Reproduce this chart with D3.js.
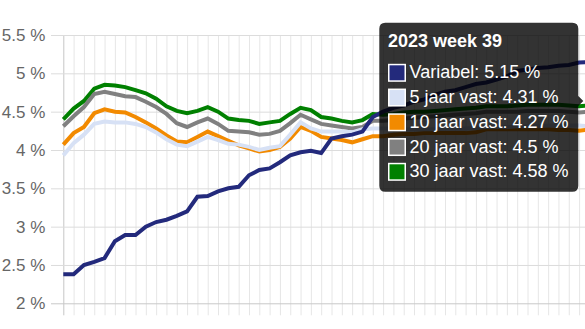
<!DOCTYPE html>
<html><head><meta charset="utf-8">
<script src="https://cdn.jsdelivr.net/npm/d3@7"></script>
<style>html,body{margin:0;padding:0;background:#fff;overflow:hidden}svg{display:block}</style>
</head><body><svg id="c" width="585" height="329"></svg>
<script>
const categories = [
 "2022 week 40","2022 week 41","2022 week 42","2022 week 43","2022 week 44","2022 week 45","2022 week 46",
 "2022 week 47","2022 week 48","2022 week 49","2022 week 50","2022 week 51","2022 week 52",
 "2023 week 1","2023 week 2","2023 week 3","2023 week 4","2023 week 5","2023 week 6","2023 week 7",
 "2023 week 8","2023 week 9","2023 week 10","2023 week 11","2023 week 12","2023 week 13","2023 week 14",
 "2023 week 15","2023 week 16","2023 week 17","2023 week 18","2023 week 19","2023 week 20","2023 week 21",
 "2023 week 22","2023 week 23","2023 week 24","2023 week 25","2023 week 26","2023 week 27","2023 week 28",
 "2023 week 29","2023 week 30","2023 week 31","2023 week 32","2023 week 33","2023 week 34","2023 week 35",
 "2023 week 36","2023 week 37","2023 week 38","2023 week 39"];

const seriesNames = ["Variabel", "5 jaar vast", "10 jaar vast", "20 jaar vast", "30 jaar vast"];

const variabel = [2.38,2.38,2.50,2.54,2.59,2.81,2.89,2.89,3.00,3.06,3.09,3.14,3.20,3.39,3.40,3.46,3.50,3.52,3.67,3.74,
 3.76,3.84,3.93,3.97,3.99,3.96,4.15,4.18,4.20,4.24,4.43,4.50,4.55,4.58,4.63,4.66,4.72,4.76,4.78,4.82,
 4.86,4.88,4.92,4.96,5.03,5.05,5.07,5.08,5.10,5.11,5.14,5.15];
const vast5 = [3.93,4.09,4.20,4.34,4.37,4.36,4.36,4.34,4.30,4.23,4.14,4.07,4.05,4.11,4.17,4.13,4.08,4.07,4.04,4.00,
 4.03,4.05,4.20,4.36,4.28,4.24,4.24,4.24,4.23,4.27,4.28,4.28,4.28,4.27,4.27,4.27,4.27,4.28,4.28,4.28,
 4.29,4.30,4.30,4.30,4.31,4.31,4.31,4.32,4.32,4.32,4.32,4.31];
const vast10 = [4.07,4.22,4.30,4.48,4.53,4.50,4.49,4.43,4.36,4.28,4.19,4.11,4.10,4.17,4.24,4.18,4.12,4.06,4.02,3.98,
 4.00,4.04,4.15,4.30,4.25,4.17,4.15,4.13,4.10,4.14,4.18,4.18,4.20,4.21,4.21,4.22,4.22,4.22,4.22,4.22,
 4.23,4.27,4.27,4.27,4.27,4.27,4.27,4.27,4.26,4.26,4.25,4.27];
const vast20 = [4.31,4.44,4.56,4.73,4.76,4.73,4.70,4.69,4.63,4.56,4.47,4.35,4.30,4.36,4.41,4.34,4.25,4.24,4.23,4.20,
 4.21,4.25,4.35,4.46,4.40,4.34,4.32,4.30,4.28,4.30,4.38,4.38,4.39,4.41,4.42,4.43,4.44,4.45,4.46,4.47,
 4.48,4.50,4.50,4.50,4.50,4.51,4.51,4.51,4.51,4.50,4.49,4.50];
const vast30 = [4.40,4.54,4.64,4.80,4.85,4.84,4.82,4.78,4.74,4.67,4.57,4.51,4.48,4.51,4.56,4.50,4.41,4.39,4.38,4.34,
 4.36,4.38,4.47,4.55,4.52,4.43,4.41,4.38,4.36,4.39,4.47,4.46,4.47,4.49,4.50,4.50,4.51,4.52,4.53,4.54,
 4.55,4.57,4.57,4.57,4.58,4.59,4.59,4.59,4.59,4.58,4.57,4.58];

const yTicks = [2, 2.5, 3, 3.5, 4, 4.5, 5, 5.5];
const palette = ["#232a7c", "#d7e1f5", "#f28a00", "#808080", "#008000"];

const allValues = [variabel, vast5, vast10, vast20, vast30];
const W = 585, H = 329;
const FONT = "'Liberation Sans', Arial, Helvetica, sans-serif";
const svg = d3.select("#c");

const x = d3.scalePoint().domain(categories).range([63.3, 589.4]);
const y = d3.scaleLinear().domain([2, 5.5]).range([303.3, 35]);

// vertical grid (x axis)
const xAxis = d3.axisBottom(x).tickFormat("").tickSizeOuter(0);
const gx = svg.append("g").attr("transform", `translate(0,${y(2)})`).call(xAxis);
gx.select(".domain").remove();
gx.selectAll(".tick text").remove();
gx.selectAll(".tick line")
  .attr("y1", 12).attr("y2", y(5.5) - y(2))
  .attr("stroke", (d, i) => i === 0 ? "#c6c6c6" : "#e6e6e6").attr("stroke-width", 1);

// horizontal grid + labels (y axis)
const yAxis = d3.axisLeft(y).tickValues(yTicks).tickFormat(d => d + " %").tickSizeOuter(0).tickPadding(18);
const gy = svg.append("g").attr("transform", `translate(${x(categories[0])},0)`).call(yAxis);
gy.select(".domain").remove();
gy.selectAll(".tick line")
  .attr("x1", 51 - x(categories[0])).attr("x2", W)
  .attr("stroke", d => d === 2 ? "#c8c8c8" : "#dcdcdc").attr("stroke-width", 1);
gy.selectAll(".tick text")
  .attr("x", -18).attr("dy", null).attr("y", 5.5)
  .attr("fill", "#666").style("font-family", FONT).style("font-size", "17px").attr("text-anchor", "end");

// lines (first dataset on top)
const line = d3.line().x((d, i) => x(categories[i])).y(d => y(d));
const order = [4, 3, 2, 1, 0];
svg.append("g").selectAll("path").data(order).join("path")
  .attr("d", k => line(allValues[k]))
  .attr("fill", "none")
  .attr("stroke", k => palette[k])
  .attr("stroke-width", 4)
  .attr("stroke-linejoin", "miter");

// tooltip
const last = categories.length - 1;
const tx = 379.3, ty = 22.7, tw = 199, th = 169, r = 6, cy = 101;
const tt = svg.append("g");
const p = `M${tx + r},${ty} H${tx + tw - r} Q${tx + tw},${ty} ${tx + tw},${ty + r} V${cy - 5} L${tx + tw + 5},${cy} L${tx + tw},${cy + 5} V${ty + th - r} Q${tx + tw},${ty + th} ${tx + tw - r},${ty + th} H${tx + r} Q${tx},${ty + th} ${tx},${ty + th - r} V${ty + r} Q${tx},${ty} ${tx + r},${ty} Z`;
tt.append("path").attr("d", p).attr("fill", "rgba(0,0,0,0.8)");
tt.append("text").attr("x", 388).attr("y", 46.7)
  .attr("fill", "#fff").style("font-family", FONT).style("font-size", "18px").style("font-weight", "bold")
  .text(categories[last]);
seriesNames.forEach((name, k) => {
  const c = 72.8 + 24.75 * k;
  tt.append("rect").attr("x", 388).attr("y", c - 9).attr("width", 18).attr("height", 18).attr("fill", "#fff");
  tt.append("rect").attr("x", 389.5).attr("y", c - 7.5).attr("width", 15).attr("height", 15).attr("fill", palette[k]);
  tt.append("text").attr("x", 409.5).attr("y", c + 5.6)
    .attr("fill", "#fff").style("font-family", FONT).style("font-size", "18px")
    .text(`${name}: ${allValues[k][last]} %`);
});
</script>
</body></html>
